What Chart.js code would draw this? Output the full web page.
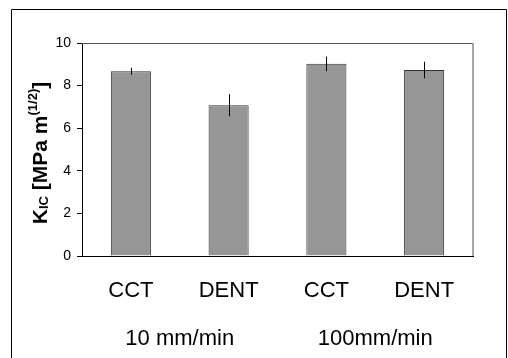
<!DOCTYPE html>
<html>
<head>
<meta charset="utf-8">
<script src="https://cdn.jsdelivr.net/npm/chart.js@4"></script>
<style>
  body { margin: 0; background: #fff; }
  #wrap { width: 508px; height: 358px; }
</style>
</head>
<body>
<div id="wrap"><canvas id="chart" width="508" height="358"></canvas></div>
<script>
const specimens = ["CCT", "DENT", "CCT", "DENT"];
const rates = ["10 mm/min", "100mm/min"];
const kic = [8.67, 7.08, 9.02, 8.73];
const kicErr = [0.16, 0.52, 0.34, 0.39];
const yTicks = [0, 2, 4, 6, 8, 10];

const font = "'Liberation Sans', Arial, sans-serif";

// vertical error bars, no caps
const errorBars = {
  id: "errorBars",
  afterDatasetsDraw(chart) {
    const ctx = chart.ctx;
    const y = chart.scales.y;
    const meta = chart.getDatasetMeta(0);
    ctx.save();
    ctx.strokeStyle = "#000";
    ctx.lineWidth = 1;
    meta.data.forEach((bar, i) => {
      const x = Math.round(bar.x) + 0.5;
      ctx.beginPath();
      ctx.moveTo(x, y.getPixelForValue(kic[i] + kicErr[i]));
      ctx.lineTo(x, y.getPixelForValue(kic[i] - kicErr[i]));
      ctx.stroke();
    });
    ctx.restore();
  },
};

// outer frame + grey top/right of plot box + rotated y title with sub/sup
const decorations = {
  id: "decorations",
  beforeDraw(chart) {
    const ctx = chart.ctx;
    ctx.save();
    ctx.fillStyle = "#fff";
    ctx.fillRect(0, 0, chart.width, chart.height);
    ctx.strokeStyle = "#000";
    ctx.lineWidth = 1;
    ctx.beginPath();
    ctx.moveTo(11.5, 400);
    ctx.lineTo(11.5, 9.5);
    ctx.lineTo(506.5, 9.5);
    ctx.lineTo(506.5, 400);
    ctx.stroke();
    ctx.restore();
  },
  afterDraw(chart) {
    const ctx = chart.ctx;
    const a = chart.chartArea;
    ctx.save();
    ctx.lineWidth = 1;
    ctx.strokeStyle = "#555";
    ctx.beginPath();
    ctx.moveTo(a.left, a.top + 0.5);
    ctx.lineTo(a.right, a.top + 0.5);
    ctx.stroke();
    ctx.strokeStyle = "#888";
    ctx.lineWidth = 1.5;
    ctx.beginPath();
    ctx.moveTo(a.right, a.top);
    ctx.lineTo(a.right, a.bottom);
    ctx.stroke();

    const parts = [
      { t: "K", s: 21, dy: 0 },
      { t: "IC", s: 13, dy: 1 },
      { t: " [MPa m", s: 21, dy: 0 },
      { t: "(1/2)", s: 13, dy: -10 },
      { t: "]", s: 21, dy: 0 },
    ];
    let total = 0;
    parts.forEach((p) => {
      ctx.font = "bold " + p.s + "px " + font;
      p.w = ctx.measureText(p.t).width;
      total += p.w;
    });
    ctx.translate(46.5, 153);
    ctx.rotate(-Math.PI / 2);
    ctx.fillStyle = "#000";
    ctx.textBaseline = "alphabetic";
    let x = -total / 2;
    parts.forEach((p) => {
      ctx.font = "bold " + p.s + "px " + font;
      ctx.fillText(p.t, x, p.dy);
      x += p.w;
    });
    ctx.restore();
  },
};

new Chart(document.getElementById("chart"), {
  type: "bar",
  data: {
    labels: specimens,
    datasets: [
      {
        data: kic,
        backgroundColor: "#969696",
        borderColor: "#333",
        borderWidth: 1,
        categoryPercentage: 1,
        barPercentage: 0.41,
      },
    ],
  },
  options: {
    responsive: false,
    animation: false,
    devicePixelRatio: 1,
    layout: { padding: { left: 0, top: 43, right: 35, bottom: 0 } },
    plugins: { legend: { display: false }, tooltip: { enabled: false } },
    scales: {
      y: {
        min: 0,
        max: 10,
        afterBuildTicks: (s) => { s.ticks = yTicks.map((v) => ({ value: v })); },
        afterFit: (s) => { s.width = 82; },
        border: { color: "#000", width: 1 },
        grid: { drawOnChartArea: false, drawTicks: true, tickLength: 5, color: "#000" },
        ticks: { color: "#000", font: { family: font, size: 14 }, padding: 6 },
      },
      x: {
        weight: 0,
        afterFit: (s) => { s.height = 60; },
        border: { color: "#000", width: 1 },
        grid: { display: false, drawTicks: false },
        ticks: { color: "#000", font: { family: font, size: 22 }, padding: 22, maxRotation: 0 },
      },
      x2: {
        type: "category",
        position: "bottom",
        weight: 1,
        labels: rates,
        afterFit: (s) => { s.height = 42; },
        border: { display: false },
        grid: { display: false, drawTicks: false },
        ticks: { color: "#000", font: { family: font, size: 22 }, padding: 10, maxRotation: 0 },
      },
    },
  },
  plugins: [decorations, errorBars],
});
</script>
</body>
</html>
